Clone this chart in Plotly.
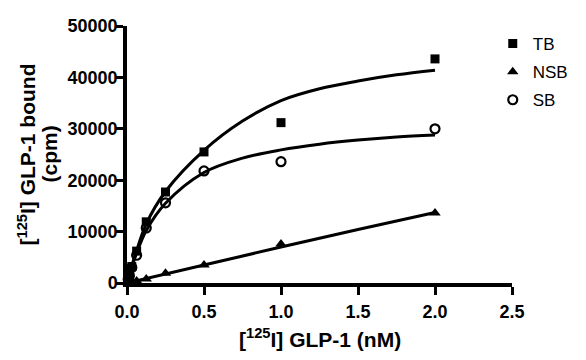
import plotly.graph_objects as go

# measured points
conc = [0.0078, 0.0156, 0.03125, 0.0625, 0.125, 0.25, 0.5, 1.0, 2.0]
tb_vals = [800, 1500, 3200, 6200, 11900, 17700, 25500, 31200, 43600]
nsb_vals = [50, 100, 200, 400, 800, 1900, 3500, 7600, 13600]
sb_vals = [750, 1400, 3000, 5400, 10700, 15600, 21800, 23600, 30000]

# fitted curves
fit_x = [0, 0.03, 0.0625, 0.125, 0.25, 0.5, 0.75, 1.0, 1.25, 1.5, 1.75, 2.0]
tb_fit = [0, 3200, 6300, 11500, 17800, 25800, 31500, 35500, 37800, 39300, 40500, 41400]
sb_fit = [0, 3000, 5800, 10200, 15500, 21500, 24300, 25900, 27000, 27800, 28400, 28800]
nsb_fit_x = [0, 0.5, 1.0, 1.5, 2.0]
nsb_fit = [0, 3500, 7000, 10400, 13700]

x_ticks = [0.0, 0.5, 1.0, 1.5, 2.0, 2.5]
y_ticks = [0, 10000, 20000, 30000, 40000, 50000]

FONT = "Liberation Sans, Arial"

fig = go.Figure()
line = dict(color="black", width=3)
fig.add_trace(go.Scatter(x=fit_x, y=tb_fit, mode="lines", line=dict(shape="spline", **line),
                         showlegend=False, cliponaxis=False))
fig.add_trace(go.Scatter(x=fit_x, y=sb_fit, mode="lines", line=dict(shape="spline", **line),
                         showlegend=False, cliponaxis=False))
fig.add_trace(go.Scatter(x=nsb_fit_x, y=nsb_fit, mode="lines", line=dict(shape="spline", **line),
                         showlegend=False, cliponaxis=False))

fig.add_trace(go.Scatter(x=conc, y=tb_vals, mode="markers", name="TB", legendgroup="a",
                         marker=dict(symbol="square", size=9, color="black"), cliponaxis=False))
fig.add_trace(go.Scatter(x=conc, y=nsb_vals, mode="markers", name="NSB", legendgroup="b",
                         marker=dict(symbol="triangle-up", size=10, color="black"), cliponaxis=False))
fig.add_trace(go.Scatter(x=conc, y=sb_vals, mode="markers", name="SB", legendgroup="c",
                         marker=dict(symbol="circle-open", size=9, color="black", line=dict(width=2.2)),
                         cliponaxis=False))

tickfont = dict(family=FONT, size=18, color="black", weight="bold")
axis_common = dict(showline=True, linecolor="black", linewidth=3.5, ticks="outside",
                   ticklen=8, tickwidth=3, tickcolor="black", showgrid=False, zeroline=False,
                   tickfont=tickfont)

title_font = dict(family=FONT, size=21, color="black", weight="bold")

fig.update_layout(
    width=586, height=360,
    margin=dict(l=127, r=74, t=26, b=77),
    plot_bgcolor="white", paper_bgcolor="white",
    xaxis=dict(range=[0, 2.5], tickvals=x_ticks, ticktext=[f"{v:.1f}" for v in x_ticks],
               ticklabelstandoff=2, **axis_common),
    yaxis=dict(range=[0, 50000], tickvals=y_ticks, ticktext=[str(v) for v in y_ticks],
               ticklabelstandoff=-6, **axis_common),
    legend=dict(x=0.95, y=1.0, xanchor="left", yanchor="top", tracegroupgap=3,
                font=dict(family=FONT, size=17, color="black"),
                bgcolor="rgba(0,0,0,0)"),
    annotations=[
        dict(text="[<sup>125</sup>I] GLP-1 (nM)", xref="paper", yref="paper",
             x=0.5, y=(283 - 338) / 257, xanchor="center", yanchor="middle",
             showarrow=False, font=title_font),
        dict(text="[<sup>125</sup>I] GLP-1 bound", xref="paper", yref="paper",
             x=(26 - 127) / 385, y=0.5, xanchor="center", yanchor="middle",
             textangle=-90, showarrow=False, font=title_font),
        dict(text="(cpm)", xref="paper", yref="paper",
             x=(49 - 127) / 385, y=0.5, xanchor="center", yanchor="middle",
             textangle=-90, showarrow=False, font=title_font),
    ],
)

# remove the default page margin so the figure sits at the window's top-left corner
fig.write_html("out.html", config={"displayModeBar": False},
               post_script="document.body.style.margin='0';")
